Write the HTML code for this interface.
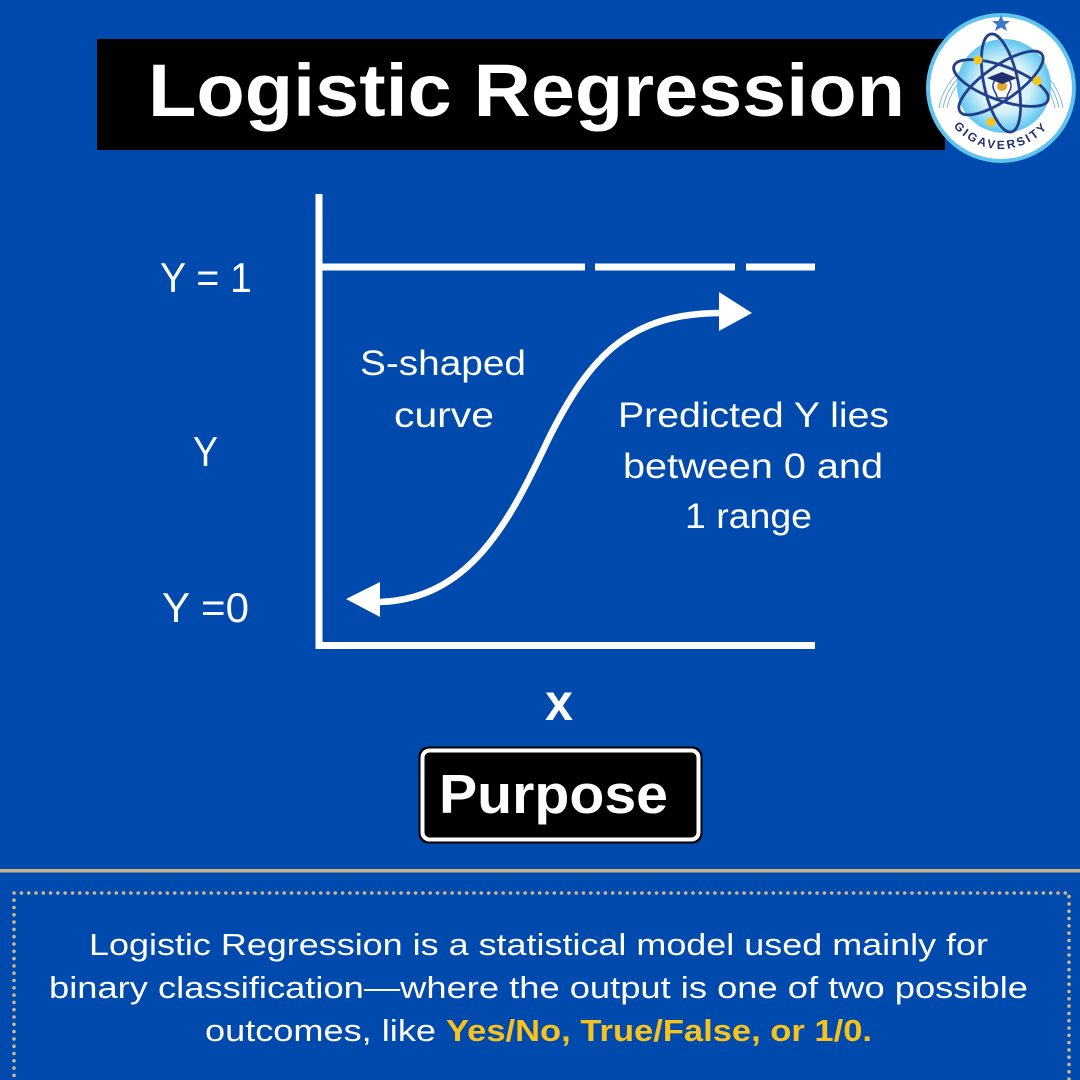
<!DOCTYPE html>
<html>
<head>
<meta charset="utf-8">
<style>
  html,body{margin:0;padding:0;background:#004aad;}
  svg{display:block;}
</style>
</head>
<body>
<svg width="1080" height="1080" viewBox="0 0 1080 1080" xmlns="http://www.w3.org/2000/svg">
  <defs>
    <radialGradient id="inner" cx="50%" cy="50%" r="50%">
      <stop offset="0%" stop-color="#ffffff"/>
      <stop offset="55%" stop-color="#d6f1fb"/>
      <stop offset="100%" stop-color="#5ec6ef"/>
    </radialGradient>
    <path id="arc" d="M 940 88 A 61 61 0 0 0 1062 88"/>
  </defs>

  <rect x="0" y="0" width="1080" height="1080" fill="#004aad"/>

  <!-- Title -->
  <rect x="97" y="39" width="848" height="111" fill="#000"/>
  <text x="148" y="116" font-family="Liberation Sans, sans-serif" font-weight="bold" font-size="74" fill="#fff" textLength="757" lengthAdjust="spacingAndGlyphs">Logistic Regression</text>

  <!-- Logo -->
  <g>
    <circle cx="1001" cy="88" r="75" fill="#5fc3ee"/>
    <circle cx="1001" cy="88" r="71" fill="#ffffff"/>
    <g fill="none" stroke="#7fb6e0" stroke-width="1">
      <path d="M 939 108 A 63 63 0 0 1 1063 108"/>
      <path d="M 943 108 A 59 59 0 0 1 1059 108"/>
      <path d="M 947 108 A 55 55 0 0 1 1055 108"/>
    </g>
    <circle cx="1004" cy="86" r="47" fill="url(#inner)"/>
    <polygon points="1001,15 1003.5,21 1010,21 1005,25 1007,31 1001,27.5 995,31 997,25 992,21 998.5,21" fill="#3a78c8"/>
    <g fill="none" stroke="#233f8c" stroke-width="2.8">
      <ellipse cx="1001" cy="83" rx="17" ry="50" transform="rotate(-12 1001 83)"/>
      <ellipse cx="1001" cy="83" rx="17" ry="50" transform="rotate(55 1001 83)"/>
      <ellipse cx="1001" cy="83" rx="17" ry="50" transform="rotate(-70 1001 83)"/>
    </g>
    <circle cx="978" cy="60" r="4.5" fill="#f5c518"/>
    <circle cx="1037" cy="81" r="4.5" fill="#f5c518"/>
    <circle cx="991" cy="122" r="4.5" fill="#f5c518"/>
    <path d="M 993 86 a 9 9 0 1 1 18 0 c 0 5 -4 7 -4 12 h -10 c 0 -5 -4 -7 -4 -12 z" fill="#fff" stroke="#233f8c" stroke-width="1.5"/>
    <circle cx="1002" cy="86" r="5" fill="#e0a82a"/>
    <polygon points="987,78 1002,72 1017,78 1002,84" fill="#1f2f6f"/>
    <text font-family="Liberation Sans, sans-serif" font-weight="bold" font-size="12" fill="#1f2f6f" letter-spacing="2.5"><textPath href="#arc" startOffset="50%" text-anchor="middle">GIGAVERSITY</textPath></text>
  </g>

  <!-- Axes -->
  <line x1="319" y1="194" x2="319" y2="649" stroke="#fff" stroke-width="7"/>
  <line x1="315.5" y1="645.5" x2="815" y2="645.5" stroke="#fff" stroke-width="7"/>
  <line x1="322" y1="267" x2="585" y2="267" stroke="#fff" stroke-width="7"/>
  <line x1="595" y1="267" x2="735" y2="267" stroke="#fff" stroke-width="7"/>
  <line x1="746" y1="267" x2="815" y2="267" stroke="#fff" stroke-width="7"/>

  <!-- S curve -->
  <path d="M 375 602 C 470 602 510 520 548 440 C 590 355 630 313 722 313" fill="none" stroke="#fff" stroke-width="6.5"/>
  <polygon points="719,292 752,313 719,331" fill="#fff"/>
  <polygon points="380,582 346,599 380,617" fill="#fff"/>

  <!-- Axis labels -->
  <g font-family="Liberation Sans, sans-serif" font-size="42" fill="#fff">
    <text x="160" y="292" textLength="92" lengthAdjust="spacingAndGlyphs">Y = 1</text>
    <text x="193" y="466" textLength="25" lengthAdjust="spacingAndGlyphs">Y</text>
    <text x="162" y="622" textLength="87" lengthAdjust="spacingAndGlyphs">Y =0</text>
  </g>
  <g font-family="Liberation Sans, sans-serif" font-size="35" fill="#fff">
    <text x="360" y="375" textLength="166" lengthAdjust="spacingAndGlyphs">S-shaped</text>
    <text x="394" y="427" textLength="100" lengthAdjust="spacingAndGlyphs">curve</text>
    <text x="618" y="427" textLength="271" lengthAdjust="spacingAndGlyphs">Predicted Y lies</text>
    <text x="623" y="478" textLength="260" lengthAdjust="spacingAndGlyphs">between 0 and</text>
    <text x="685" y="528" textLength="127" lengthAdjust="spacingAndGlyphs">1 range</text>
  </g>
  <text x="545" y="720" font-family="Liberation Sans, sans-serif" font-weight="bold" font-size="52" fill="#fff" textLength="28" lengthAdjust="spacingAndGlyphs">x</text>

  <!-- Purpose box -->
  <rect x="418.5" y="746.5" width="284" height="97" rx="10" ry="10" fill="#000"/>
  <rect x="422.5" y="750.5" width="276" height="89" rx="7" ry="7" fill="#000" stroke="#fff" stroke-width="4"/>
  <text x="439" y="813" font-family="Liberation Sans, sans-serif" font-weight="bold" font-size="55" fill="#fff" textLength="229" lengthAdjust="spacingAndGlyphs">Purpose</text>

  <!-- Divider -->
  <rect x="0" y="869" width="1080" height="3.5" fill="#c8b08e"/>

  <!-- Dotted border -->
  <path d="M 14 1090 L 14 893 L 1069 893 L 1069 1090" fill="none" stroke="#cdb68c" stroke-width="3.6" stroke-dasharray="0 7.3" stroke-linecap="round"/>

  <!-- Bottom text -->
  <g font-family="Liberation Sans, sans-serif" font-size="31" fill="#fff">
    <text x="89" y="955" textLength="899" lengthAdjust="spacingAndGlyphs">Logistic Regression is a statistical model used mainly for</text>
    <text x="49" y="998" textLength="979" lengthAdjust="spacingAndGlyphs">binary classification—where the output is one of two possible</text>
    <text x="205" y="1041" textLength="231" lengthAdjust="spacingAndGlyphs">outcomes, like</text>
  </g>
  <text x="446" y="1041" font-family="Liberation Sans, sans-serif" font-weight="bold" font-size="31" fill="#f8c21c" textLength="426" lengthAdjust="spacingAndGlyphs">Yes/No, True/False, or 1/0.</text>
</svg>
</body>
</html>
